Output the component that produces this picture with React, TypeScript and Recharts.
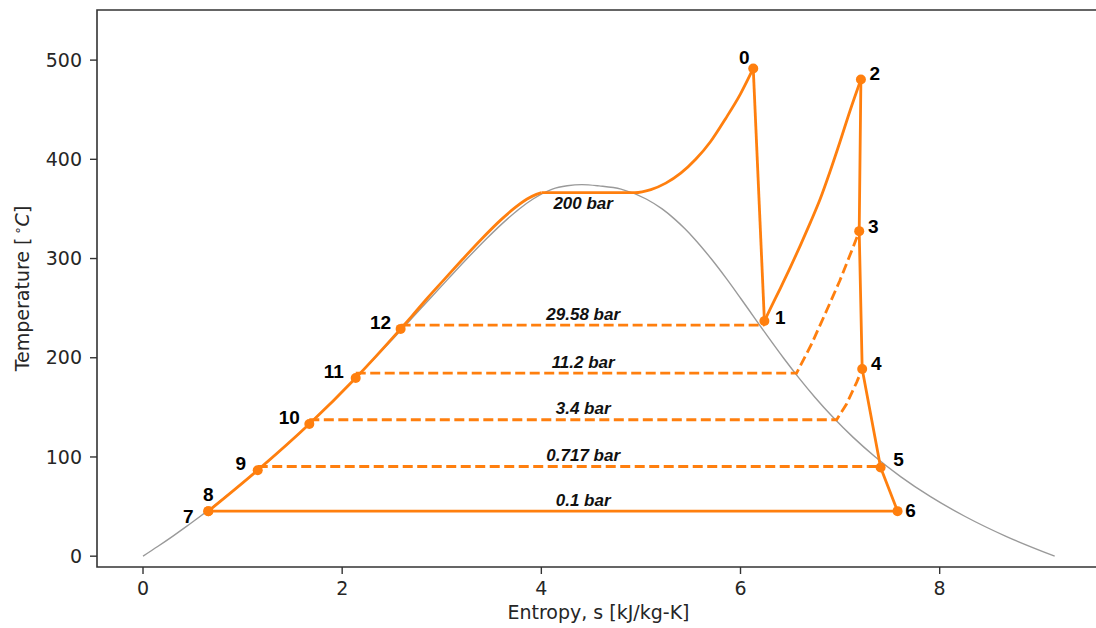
import React from 'react';
import { ComposedChart, Line, Scatter, XAxis, YAxis, ReferenceArea } from 'recharts';

type Pt = { s: number; T: number };

// Saturation dome of water: liquid branch (left) and vapour branch (right)
const satLiquid: Pt[] = [
  { s: 0.0, T: 0.01 }, { s: 0.151, T: 10 }, { s: 0.297, T: 20 }, { s: 0.437, T: 30 },
  { s: 0.572, T: 40 }, { s: 0.704, T: 50 }, { s: 0.831, T: 60 }, { s: 0.955, T: 70 },
  { s: 1.076, T: 80 }, { s: 1.193, T: 90 }, { s: 1.307, T: 100 }, { s: 1.528, T: 120 },
  { s: 1.739, T: 140 }, { s: 1.943, T: 160 }, { s: 2.139, T: 180 }, { s: 2.331, T: 200 },
  { s: 2.518, T: 220 }, { s: 2.702, T: 240 }, { s: 2.885, T: 260 }, { s: 3.069, T: 280 },
  { s: 3.255, T: 300 }, { s: 3.449, T: 320 }, { s: 3.66, T: 340 }, { s: 3.778, T: 350 },
  { s: 3.917, T: 360 }, { s: 4.111, T: 370 }, { s: 4.26, T: 373.3 },
];
const criticalPoint: Pt[] = [{ s: 4.407, T: 374.5 }];
const satVapor: Pt[] = [
  { s: 4.58, T: 373.2 }, { s: 4.8, T: 370 }, { s: 5.053, T: 360 }, { s: 5.213, T: 350 },
  { s: 5.336, T: 340 }, { s: 5.442, T: 330 }, { s: 5.536, T: 320 }, { s: 5.704, T: 300 },
  { s: 5.857, T: 280 }, { s: 6.001, T: 260 }, { s: 6.142, T: 240 }, { s: 6.284, T: 220 },
  { s: 6.43, T: 200 }, { s: 6.584, T: 180 }, { s: 6.749, T: 160 }, { s: 6.929, T: 140 },
  { s: 7.129, T: 120 }, { s: 7.354, T: 100 }, { s: 7.611, T: 80 }, { s: 7.908, T: 60 },
  { s: 8.256, T: 40 }, { s: 8.666, T: 20 }, { s: 9.155, T: 0.01 },
];
const dome: Pt[] = [...satLiquid, ...criticalPoint, ...satVapor];

// Numbered cycle states
const stateIds = ['0', '1', '2', '3', '4', '5', '6', '7', '8', '9', '10', '11', '12'];
const stateS = [6.128, 6.24, 7.209, 7.192, 7.222, 7.407, 7.577, 0.656, 0.656, 1.152, 1.67, 2.136, 2.587];
const stateT = [491.6, 237.0, 480.5, 327.6, 188.7, 89.4, 45.4, 45.4, 45.4, 86.7, 133.2, 179.6, 229.1];
const states = stateIds.map((id, i) => ({ id, s: stateS[i], T: stateT[i] }));
const st = (id: string): Pt => {
  const p = states.find((q) => q.id === id)!;
  return { s: p.s, T: p.T };
};

// Feedwater heating up to 200 bar saturated liquid
const feedHeating: Pt[] = [
  st('8'), st('9'), st('10'), st('11'), st('12'),
  { s: 2.7, T: 242 }, { s: 2.846, T: 259 }, { s: 3.026, T: 279 }, { s: 3.207, T: 299 },
  { s: 3.398, T: 319.5 }, { s: 3.605, T: 340 }, { s: 3.72, T: 350 }, { s: 3.857, T: 360 },
  { s: 3.95, T: 364.7 }, { s: 4.003, T: 366.4 },
];
// Boiling and superheating at 200 bar up to state 0
const boilerSuperheat: Pt[] = [
  { s: 4.003, T: 366.4 }, { s: 4.94, T: 366.4 }, { s: 5.1, T: 369.5 }, { s: 5.25, T: 376 },
  { s: 5.4, T: 386 }, { s: 5.55, T: 400 }, { s: 5.7, T: 418 }, { s: 5.85, T: 441 },
  { s: 6.0, T: 466 }, st('0'),
];
// High-pressure expansion 0 -> 1
const hpExpansion: Pt[] = [st('0'), st('1')];
// Reheat at 29.58 bar from state 1 to state 2
const reheat: Pt[] = [
  st('1'), { s: 6.29, T: 247.5 }, { s: 6.4, T: 270 }, { s: 6.5, T: 291 }, { s: 6.6, T: 313 },
  { s: 6.7, T: 336 }, { s: 6.8, T: 360 }, { s: 6.9, T: 388 }, { s: 7.0, T: 418 },
  { s: 7.1, T: 449 }, st('2'),
];
// Low-pressure expansion and condensation back to state 7
const lpExpansion: Pt[] = [st('2'), st('3'), st('4'), st('5'), st('6'), st('7')];

// Extraction / heater pressure lines (dashed)
const bleed2958: Pt[] = [{ s: 2.587, T: 232.8 }, { s: 6.24, T: 232.8 }];
const bleed112: Pt[] = [
  { s: 2.136, T: 184.5 }, { s: 6.563, T: 184.5 }, { s: 6.714, T: 213.9 }, { s: 6.865, T: 247.6 },
  { s: 6.998, T: 277.9 }, { s: 7.131, T: 311.5 }, { s: 7.192, T: 327.6 },
];
const bleed34: Pt[] = [
  { s: 1.67, T: 137.5 }, { s: 6.965, T: 137.5 }, { s: 7.065, T: 153.4 }, { s: 7.166, T: 175.2 },
  { s: 7.222, T: 188.7 },
];
const bleed0717: Pt[] = [{ s: 1.152, T: 90.4 }, { s: 7.407, T: 90.4 }];

// Pressure annotations
const pressureNames = ['200 bar', '29.58 bar', '11.2 bar', '3.4 bar', '0.717 bar', '0.1 bar'];
const pressureLevels = [366.4, 232.8, 184.5, 137.5, 90.4, 45.4];
const pressureLabelS = 4.42;
const pressureLabels = pressureNames.map((name, i) => ({ name, s: pressureLabelS, T: pressureLevels[i] }));

const xTicks = [0, 2, 4, 6, 8];
const yTicks = [0, 100, 200, 300, 400, 500];
const xDomain: [number, number] = [-0.462, 9.61];
const yDomain: [number, number] = [-10.9, 550.5];

const ORANGE = '#ff7f0e';
const LINE_W = 2.8;
const AXIS_FONT = 'DejaVu Sans, sans-serif';
const ANNOT_FONT = 'Liberation Sans, Arial, sans-serif';

// Where each state number sits relative to its marker
const stateLabelOffset: Record<string, [number, number]> = {
  '0': [-9, -11], '1': [16, -4], '2': [14, -6], '3': [14, -5], '4': [14, -5], '5': [18, -8],
  '6': [13, -1], '7': [-20, 5], '8': [0, -17], '9': [-17, -7], '10': [-20, -7], '11': [-22, -6],
  '12': [-20, -6],
};

const StateMarker = (props: any) => {
  const { cx, cy, payload } = props;
  if (cx == null || cy == null) return null;
  const [dx, dy] = stateLabelOffset[payload.id] || [12, 0];
  return (
    <g>
      <circle cx={cx} cy={cy} r={5} fill={ORANGE} />
      <text
        x={cx + dx}
        y={cy + dy}
        textAnchor="middle"
        dominantBaseline="central"
        fontFamily={ANNOT_FONT}
        fontWeight="bold"
        fontSize={19}
        fill="#000"
      >
        {payload.id}
      </text>
    </g>
  );
};

const PressureText = (props: any) => {
  const { cx, cy, payload } = props;
  if (cx == null || cy == null) return null;
  const dy = payload.name === '200 bar' ? 11 : -11;
  return (
    <text
      x={cx}
      y={cy + dy}
      textAnchor="middle"
      dominantBaseline="central"
      fontFamily={ANNOT_FONT}
      fontWeight="bold"
      fontStyle="italic"
      fontSize={17}
      fill="#111"
    >
      {payload.name}
    </text>
  );
};

const YLabel = (props: any) => {
  const vb = props.viewBox || {};
  const cy = (vb.y ?? 0) + (vb.height ?? 0) / 2;
  return (
    <text
      transform="rotate(-90)"
      x={-cy}
      y={29}
      textAnchor="middle"
      fontFamily={AXIS_FONT}
      fontSize={19}
      fill="#262626"
    >
      <tspan>Temperature [</tspan>
      <tspan fontSize={13} dy={-7} dx={3}>∘</tspan>
      <tspan dy={7} fontStyle="italic">C</tspan>
      <tspan>]</tspan>
    </text>
  );
};

const XLabel = (props: any) => {
  const vb = props.viewBox || {};
  const cx = (vb.x ?? 0) + (vb.width ?? 0) / 2;
  return (
    <text x={cx} y={619} textAnchor="middle" fontFamily={AXIS_FONT} fontSize={19} fill="#262626">
      Entropy, s [kJ/kg-K]
    </text>
  );
};

const dashedLines = [bleed2958, bleed112, bleed34, bleed0717];
const smoothSolid = [feedHeating, boilerSuperheat, reheat];
const straightSolid = [hpExpansion, lpExpansion];

export default function App() {
  return (
    <div style={{ position: 'absolute', left: 0, top: 0, background: '#fff' }}>
      <ComposedChart width={1100} height={628} margin={{ top: 10, right: 0, bottom: 0, left: 0 }}>
        <XAxis
          type="number"
          dataKey="s"
          domain={xDomain}
          allowDataOverflow
          ticks={xTicks}
          height={61}
          tickSize={7}
          tickMargin={8}
          axisLine={false}
          tickLine={{ stroke: '#333', strokeWidth: 1.4 }}
          tick={{ fontFamily: AXIS_FONT, fontSize: 19, fill: '#262626' }}
          label={<XLabel />}
        />
        <YAxis
          type="number"
          dataKey="T"
          domain={yDomain}
          allowDataOverflow
          ticks={yTicks}
          width={97}
          tickSize={7}
          tickMargin={8}
          axisLine={false}
          tickLine={{ stroke: '#333', strokeWidth: 1.4 }}
          tick={{ fontFamily: AXIS_FONT, fontSize: 19, fill: '#262626' }}
          label={<YLabel />}
        />
        <ReferenceArea
          x1={xDomain[0]}
          x2={xDomain[1]}
          y1={yDomain[0]}
          y2={yDomain[1]}
          fill="none"
          fillOpacity={0}
          stroke="#333"
          strokeWidth={1.6}
          ifOverflow="visible"
        />
        <Line
          data={dome}
          dataKey="T"
          type="monotoneX"
          stroke="#9a9a9a"
          strokeWidth={1.4}
          dot={false}
          activeDot={false}
          isAnimationActive={false}
        />
        {dashedLines.map((d, i) => (
          <Line
            key={`d${i}`}
            data={d}
            dataKey="T"
            type="linear"
            stroke={ORANGE}
            strokeWidth={LINE_W}
            strokeDasharray="10 4.5"
            dot={false}
            activeDot={false}
            isAnimationActive={false}
          />
        ))}
        {smoothSolid.map((d, i) => (
          <Line
            key={`c${i}`}
            data={d}
            dataKey="T"
            type="monotoneX"
            stroke={ORANGE}
            strokeWidth={LINE_W}
            dot={false}
            activeDot={false}
            isAnimationActive={false}
          />
        ))}
        {straightSolid.map((d, i) => (
          <Line
            key={`l${i}`}
            data={d}
            dataKey="T"
            type="linear"
            stroke={ORANGE}
            strokeWidth={LINE_W}
            strokeLinejoin="round"
            dot={false}
            activeDot={false}
            isAnimationActive={false}
          />
        ))}
        <Scatter data={pressureLabels} dataKey="T" shape={<PressureText />} isAnimationActive={false} />
        <Scatter data={states} dataKey="T" shape={<StateMarker />} isAnimationActive={false} />
      </ComposedChart>
    </div>
  );
}
